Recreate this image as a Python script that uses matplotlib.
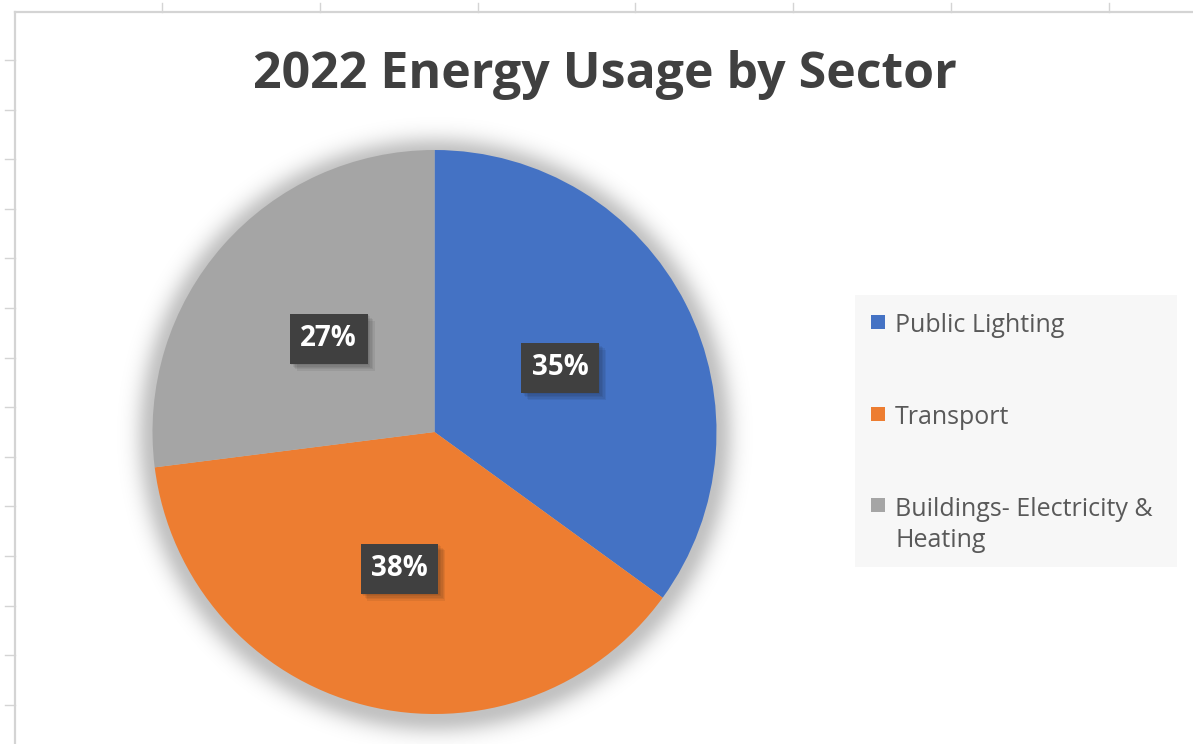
import numpy as np
import matplotlib
matplotlib.use('Agg')
import matplotlib.pyplot as plt
import matplotlib.patheffects as pe
from matplotlib.patches import Rectangle

plt.rcParams['font.family'] = ['Open Sans', 'DejaVu Sans']

# data
sectors = ['Public Lighting', 'Transport', 'Buildings- Electricity &\nHeating']
shares = [35, 38, 27]
colors = ['#4472C4', '#ED7D31', '#A5A5A5']
title = '2022 Energy Usage by Sector'

W, H = 1193, 744
fig = plt.figure(figsize=(W / 100, H / 100), dpi=100)
fig.patch.set_facecolor('white')

# background axes in pixel coords (y down) for sheet grid, title, legend, glow
bg = fig.add_axes([0, 0, 1, 1], zorder=0)
bg.set_xlim(0, W)
bg.set_ylim(H, 0)
bg.axis('off')

grid_col = '#d4d4d4'
bg.plot([15, W], [12, 12], color=grid_col, lw=1.6)
bg.plot([15, 15], [12, H], color=grid_col, lw=1.6)
for x in np.arange(162, W, 157.8):
    bg.plot([x, x], [3, 12], color=grid_col, lw=1.0)
for y in np.arange(60, H, 49.6):
    bg.plot([5, 15], [y, y], color=grid_col, lw=1.0)

# pie geometry (pixels)
cx, cy, r = 434.5, 432, 282

# soft glow behind the pie
gx = np.arange(cx - r - 80, cx + r + 80)
gy = np.arange(cy - r - 80, cy + r + 80)
XX, YY = np.meshgrid(gx, gy)
d = np.hypot(XX - cx, YY - (cy + 3)) - r
alpha = np.where(d > 0, 0.24 * np.exp(-(d / 18.0) ** 2), 0.24)
glow = np.zeros(XX.shape + (4,))
glow[..., 3] = alpha
bg.imshow(glow, extent=(gx[0], gx[-1], gy[-1], gy[0]), interpolation='bilinear', zorder=1)
bg.set_xlim(0, W)
bg.set_ylim(H, 0)

bg.text(605, 75, title, ha='center', va='center', fontsize=36, fontweight='bold', color='#404040')

# legend drawn by hand so the marker sits on the first line of a wrapped label
leg_x0, leg_y0, leg_w, leg_h = 855, 295, 322, 272
line_pitch = 32
bg.add_patch(Rectangle((leg_x0, leg_y0), leg_w, leg_h, facecolor='#f7f7f7', edgecolor='none', zorder=1))
for i, (lab, col) in enumerate(zip(sectors, colors)):
    base = 332 + 91.5 * i
    n_lines = lab.count('\n') + 1
    bg.add_patch(Rectangle((871, base - 17), 14, 14, facecolor=col, edgecolor='none', zorder=2))
    bg.text(895, base + (n_lines - 1) * line_pitch, lab, ha='left', va='baseline',
            fontsize=18, color='#595959', linespacing=1.32, zorder=2)

# pie axes
ax = fig.add_axes([(cx - 1.25 * r) / W, (H - cy - 1.25 * r) / H, 2.5 * r / W, 2.5 * r / H], zorder=2)
ax.patch.set_alpha(0)
wedges, texts, autotexts = ax.pie(shares, colors=colors, startangle=90, counterclock=False,
                                  autopct='%1.0f%%', pctdistance=0.5,
                                  wedgeprops=dict(linewidth=0),
                                  textprops=dict(color='white', fontsize=20, fontweight='bold'))
ax.set_xlim(-1.25, 1.25)
ax.set_ylim(-1.25, 1.25)
ax.axis('off')
shadow = [pe.SimplePatchShadow(offset=(k, -k), alpha=0.07) for k in (1, 2, 3, 4, 5)]
for t in autotexts:
    t.set_bbox(dict(boxstyle='square,pad=0.38', facecolor='#404040', edgecolor='none'))
    t.get_bbox_patch().set_path_effects(shadow + [pe.Normal()])

fig.savefig('out.png', dpi=100)
